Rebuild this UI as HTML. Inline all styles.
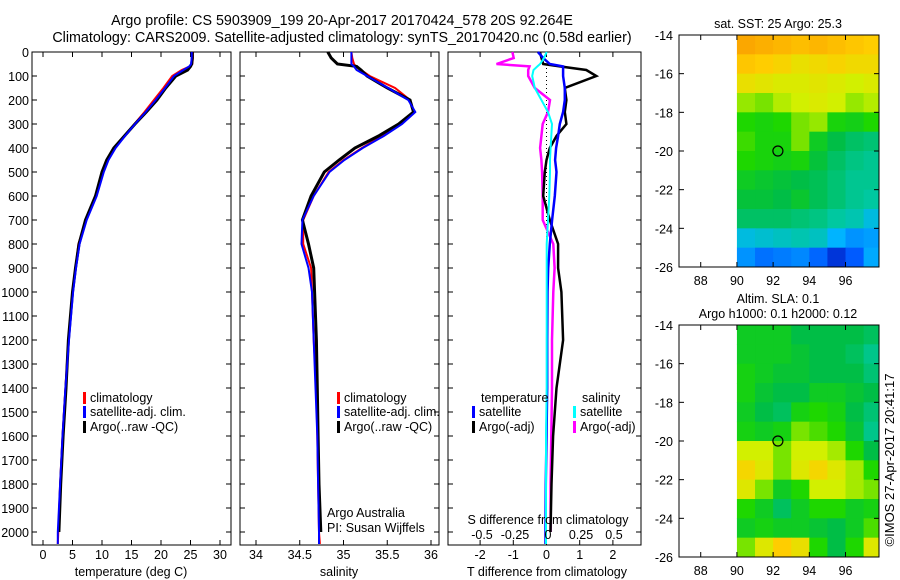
<!DOCTYPE html>
<html><head><meta charset="utf-8">
<style>
body{margin:0;background:#fff;}
svg{display:block;font-family:"Liberation Sans",sans-serif;}
</style></head>
<body>
<svg id="fig" width="900" height="580" viewBox="0 0 900 580">
<text x="342" y="25" font-size="14.3" text-anchor="middle">Argo profile: CS 5903909_199 20-Apr-2017 20170424_578 20S 92.264E</text>
<text x="342" y="42" font-size="14.3" text-anchor="middle">Climatology: CARS2009. Satellite-adjusted climatology: synTS_20170420.nc (0.58d earlier)</text>
<g id="g"></g>
<text transform="translate(894,460) rotate(-90)" font-size="13" text-anchor="middle">©IMOS 27-Apr-2017 20:41:17</text>
</svg>
<script>
// ---------- data ----------
const depths = [0,25,50,60,75,100,150,200,250,300,350,400,450,500,600,700,800,900,1000,1200,1400,1600,1800,2000,2050];
const tempClim = [25.4,25.4,25.3,24.9,23.5,21.9,20.4,18.8,17.2,15.5,13.8,12.2,11.0,10.2,9.0,7.3,6.0,5.5,5.0,4.3,3.8,3.3,2.9,2.6,2.5];
const tempSat  = [25.2,25.2,25.1,24.8,23.8,22.2,20.7,19.1,17.4,15.6,13.9,12.3,11.1,10.3,9.1,7.4,6.2,5.6,5.1,4.4,3.8,3.3,2.9,2.5,2.5];
const tempArgo = [25.3,25.3,25.2,25.0,24.5,22.5,20.8,19.3,17.5,15.6,13.8,12.0,10.8,10.0,8.9,7.2,6.1,5.5,5.0,4.3,3.9,3.4,3.0,2.7];
const salClim = [35.09,35.10,35.12,35.14,35.20,35.30,35.59,35.76,35.80,35.65,35.44,35.21,35.00,34.83,34.66,34.54,34.54,34.63,34.64,34.66,34.69,34.70,34.71,34.72,34.73];
const salSat  = [35.09,35.09,35.09,35.12,35.15,35.27,35.51,35.74,35.82,35.67,35.46,35.22,35.01,34.84,34.66,34.53,34.52,34.60,34.64,34.66,34.68,34.70,34.71,34.72,34.72];
const salArgo = [34.82,34.86,34.93,35.15,35.20,35.27,35.50,35.76,35.80,35.63,35.40,35.13,34.95,34.78,34.63,34.53,34.60,34.66,34.67,34.69,34.70,34.71,34.72,34.74];
const tDiffSat  = [-0.26,-0.1,0.1,0.5,0.5,0.5,0.55,0.55,0.5,0.4,0.35,0.29,0.26,0.3,0.25,0.17,0.1,0.05,0.03,0.02,0.02,0.0,-0.02,-0.03,-0.03];
const tDiffArgo = [-0.2,-0.15,-0.1,0.4,1.2,1.5,0.55,0.6,0.55,0.6,0.3,0.1,0.0,-0.05,-0.1,0.1,0.35,0.35,0.45,0.5,0.3,0.2,0.15,0.12];
const sDiffSat  = [-0.01,-0.03,-0.06,-0.08,-0.11,-0.12,-0.1,-0.05,0.0,0.03,0.025,0.02,0.015,0.015,0.01,0.0,-0.01,-0.01,-0.01,-0.01,-0.01,-0.015,-0.015,-0.015,-0.015];
const sDiffArgo = [-0.27,-0.26,-0.39,-0.14,-0.15,-0.15,-0.1,0.015,0.0,-0.04,-0.05,-0.06,-0.05,-0.045,-0.04,-0.04,0.04,0.05,0.04,0.03,0.03,0.025,0.02,0.02];
const depthTicks = [0,100,200,300,400,500,600,700,800,900,1000,1100,1200,1300,1400,1500,1600,1700,1800,1900,2000];
const tempTicks = [0,5,10,15,20,25,30];
const salTicks = [34,34.5,35,35.5,36];
const tDiffTicks = [-2,-1,0,1,2];
const sDiffTicks = [-0.5,-0.25,0,0.25,0.5];
const sDiffTickLabels = ["-0.5","-0.25","0","0.25","0.5"];
const mapLonTicks = [88,90,92,94,96];
const mapLatTicks = [-14,-16,-18,-20,-22,-24,-26];
const gridLons = [90,91,92,93,94,95,96,97];
const gridLats = [-14,-15,-16,-17,-18,-19,-20,-21,-22,-23,-24,-25];
const sst = [
 [27.3,27.2,27.1,27.0,27.1,27.0,26.9,26.8],
 [26.9,26.8,26.7,26.5,26.6,26.7,26.6,26.6],
 [26.5,26.4,26.3,26.3,26.4,26.3,26.2,26.3],
 [26.0,25.9,26.1,26.2,26.3,26.2,26.0,26.1],
 [25.6,25.5,25.6,25.9,26.0,25.5,25.4,25.6],
 [25.7,25.5,25.5,25.9,25.3,25.0,24.8,24.7],
 [25.6,25.5,25.4,25.5,25.1,24.8,24.6,24.5],
 [25.3,25.2,25.1,25.0,24.9,24.7,24.5,24.5],
 [25.1,25.1,25.0,25.2,24.9,24.7,24.5,24.4],
 [24.8,24.8,24.8,24.7,24.6,24.4,24.3,24.0],
 [24.0,24.1,24.2,24.3,24.2,23.8,23.5,23.6],
 [23.5,23.2,23.3,23.4,23.1,22.6,23.0,23.7]];
const sla = [
 [0.02,0.02,0.02,0.00,0.00,0.00,0.00,-0.01],
 [0.02,0.02,0.02,0.01,0.00,0.00,-0.01,-0.03],
 [0.03,0.02,0.01,0.01,0.00,0.00,0.00,-0.02],
 [0.03,0.01,0.00,0.00,0.02,0.02,0.01,0.00],
 [0.02,0.00,-0.01,0.03,0.04,0.03,0.00,-0.02],
 [0.03,0.02,0.03,0.06,0.05,0.04,0.01,-0.03],
 [0.08,0.08,0.06,0.08,0.08,0.07,0.04,0.00],
 [0.11,0.09,0.06,0.09,0.11,0.09,0.07,0.04],
 [0.09,0.06,0.02,0.04,0.08,0.08,0.07,0.06],
 [0.04,0.02,-0.01,0.02,0.04,0.04,0.02,0.03],
 [0.02,0.03,0.02,0.02,0.01,0.00,0.02,0.05],
 [0.06,0.09,0.12,0.10,0.04,0.00,0.04,0.09]];
const argoLon = 92.264, argoLat = -20;

// ---------- helpers ----------
const NS="http://www.w3.org/2000/svg";
const G=document.getElementById('g');
function mk(tag,attrs,parent){const e=document.createElementNS(NS,tag);for(const k in attrs)e.setAttribute(k,attrs[k]);(parent||G).appendChild(e);return e;}
const yTop=52, yBot=545;
const yD = d => yTop + d*0.24;

function panel(x0,x1,name,xs,ticks,labels,labelY){
  const g=mk('g',{});
  
  
  const r=mk('rect',{x:x0,y:yTop,width:x1-x0,height:yBot-yTop,fill:'none',stroke:'#000','stroke-width':1},g);
  
  
  depthTicks.forEach(d=>{const y=yD(d);
    mk('line',{x1:x0,x2:x0+5,y1:y,y2:y,stroke:'#000'},g);
    mk('line',{x1:x1-5,x2:x1,y1:y,y2:y,stroke:'#000'},g);});
  if(ticks) ticks.forEach((t,i)=>{const x=xs(t);
    mk('line',{x1:x,x2:x,y1:yTop,y2:yTop+5,stroke:'#000'},g);
    mk('line',{x1:x,x2:x,y1:yBot-5,y2:yBot,stroke:'#000'},g);
    if(labels){const tx=mk('text',{x:x,y:labelY,'font-size':12.5,'text-anchor':'middle'},g);tx.textContent=labels[i];
      
      }
  });
  return g;
}
function line(vals,xs,color,w,name,g){
  const pts=vals.map((v,i)=>xs(v).toFixed(1)+','+yD(depths[i]).toFixed(1)).join(' ');
  const p=mk('polyline',{points:pts,fill:'none',stroke:color,'stroke-width':w,'stroke-linejoin':'miter'},g);
  
  
}
function txt(x,y,s,name,opts){const t=mk('text',Object.assign({x:x,y:y,'font-size':12.5},opts||{}));t.textContent=s;
  
  return t;}
function legend(x,y,color,label,name){
  const m=mk('rect',{x:x,y:y-10,width:3,height:12,fill:color});
  
  
  txt(x+7,y,label,name);
}

depthTicks.forEach(d=>txt(29,yD(d)+5,String(d),'depth-tick-label',{'text-anchor':'end'}));

const xT = v => 43 + v*5.9;
const p1=panel(32,231,'temperature-panel',xT,tempTicks,tempTicks.map(String),559);
line(tempClim,xT,'#f00',2,'temp-climatology-line',p1);
line(tempArgo,xT,'#000',3,'temp-argo-line',p1);
line(tempSat,xT,'#00f',2,'temp-satellite-line',p1);
txt(131,576,'temperature (deg C)','temperature-axis-title',{'text-anchor':'middle'});
legend(83,402,'#f00','climatology','legend-climatology-1');
legend(83,416,'#00f','satellite-adj. clim.','legend-satellite-1');
legend(83,431,'#000','Argo(..raw -QC)','legend-argo-1');

const xS = v => 256 + (v-34)*87.5;
const p2=panel(240,439,'salinity-panel',xS,salTicks,salTicks.map(String),559);
line(salClim,xS,'#f00',2,'sal-climatology-line',p2);
line(salArgo,xS,'#000',3,'sal-argo-line',p2);
line(salSat,xS,'#00f',2,'sal-satellite-line',p2);
txt(339,576,'salinity','salinity-axis-title',{'text-anchor':'middle'});
legend(337,402,'#f00','climatology','legend-climatology-2');
legend(337,416,'#00f','satellite-adj. clim.','legend-satellite-2');
legend(337,431,'#000','Argo(..raw -QC)','legend-argo-2');
txt(327,517,'Argo Australia','argo-australia-label');
txt(327,532,'PI: Susan Wijffels','pi-label');

const xTd = v => 546.5 + v*33.2;
const xSd = v => 548 + v*132;
const p3=panel(448,641,'difference-panel',xTd,tDiffTicks,tDiffTicks.map(String),559);
sDiffTicks.forEach((t,i)=>{txt(xSd(t),539,sDiffTickLabels[i],'s-diff-tick-label',{'text-anchor':'middle'});});
const zl=mk('line',{x1:xTd(0),x2:xTd(0),y1:yTop,y2:yBot,stroke:'#000','stroke-dasharray':'1,3'},p3);


line(sDiffArgo,xSd,'#f0f',2.5,'sal-diff-argo-line',p3);
line(tDiffArgo,xTd,'#000',2.5,'temp-diff-argo-line',p3);
line(tDiffSat,xTd,'#00f',2.5,'temp-diff-satellite-line',p3);
line(sDiffSat,xSd,'#0ff',2,'sal-diff-satellite-line',p3);
txt(547,576,'T difference from climatology','t-diff-axis-title',{'text-anchor':'middle'});
txt(548,524,'S difference from climatology','s-diff-axis-title',{'text-anchor':'middle'});
txt(481,402,'temperature','legend-temperature-heading');
txt(582,402,'salinity','legend-salinity-heading');
legend(472,416,'#00f','satellite','legend-temp-satellite');
legend(472,431,'#000','Argo(-adj)','legend-temp-argo');
legend(573,416,'#0ff','satellite','legend-sal-satellite');
legend(573,431,'#f0f','Argo(-adj)','legend-sal-argo');

const stops=[[0,[0,0,140]],[0.15,[0,80,255]],[0.3,[0,180,255]],[0.4,[0,200,160]],[0.5,[0,190,70]],[0.6,[30,215,0]],[0.7,[210,240,0]],[0.8,[255,205,0]],[0.9,[250,160,0]],[1,[240,130,0]]];
function cmap(t){t=Math.max(0,Math.min(1,t));for(let i=1;i<stops.length;i++){if(t<=stops[i][0]){const a=stops[i-1],b=stops[i],f=(t-a[0])/(b[0]-a[0]);
  return 'rgb('+a[1].map((c,k)=>Math.round(c+(b[1][k]-c)*f)).join(',')+')';}}return 'rgb(240,130,0)';}
function drawMap(top,name,grid,norm,title1,title2){
  const left=679,right=879,bot=top+232;
  const xL=lon=>left+(lon-86.8)*18.1, yL=lat=>top+(-14-lat)*(232/12);
  const g=mk('g',{});
  
  
  grid.forEach((row,i)=>row.forEach((v,j)=>{
    const x0=xL(gridLons[j]), x1=Math.min(right,xL(gridLons[j]+1));
    const c=mk('rect',{x:x0,y:yL(gridLats[i]),width:x1-x0+0.5,height:232/12+0.5,fill:cmap(norm(v))},g);
    
    
  }));
  const fr=mk('rect',{x:left,y:top,width:right-left,height:232,fill:'none',stroke:'#000'},g);
  
  
  mapLonTicks.forEach(l=>{const x=xL(l);mk('line',{x1:x,x2:x,y1:top,y2:top+5,stroke:'#000'},g);mk('line',{x1:x,x2:x,y1:bot-5,y2:bot,stroke:'#000'},g);
    txt(x,bot+18,String(l),name+'-lon-label',{'text-anchor':'middle'});});
  mapLatTicks.forEach(l=>{const y=yL(l);mk('line',{x1:left,x2:left+5,y1:y,y2:y,stroke:'#000'},g);mk('line',{x1:right-5,x2:right,y1:y,y2:y,stroke:'#000'},g);
    txt(673,y+5,String(l),name+'-lat-label',{'text-anchor':'end'});});
  const c=mk('circle',{cx:xL(argoLon),cy:yL(argoLat),r:5,fill:'none',stroke:'#000','stroke-width':1.2},g);
  
  
  if(title2){txt(778,top-22,title1,name+'-title',{'text-anchor':'middle'});txt(778,top-7,title2,name+'-subtitle',{'text-anchor':'middle'});}
  else txt(778,top-7,title1,name+'-title',{'text-anchor':'middle'});
}
drawMap(35,'sst-map',sst,v=>(v-22)/6,'sat. SST: 25 Argo: 25.3');
drawMap(325,'sla-map',sla,v=>(v+0.2)/0.4,'Altim. SLA: 0.1','Argo h1000: 0.1 h2000: 0.12');
</script>
</body></html>
